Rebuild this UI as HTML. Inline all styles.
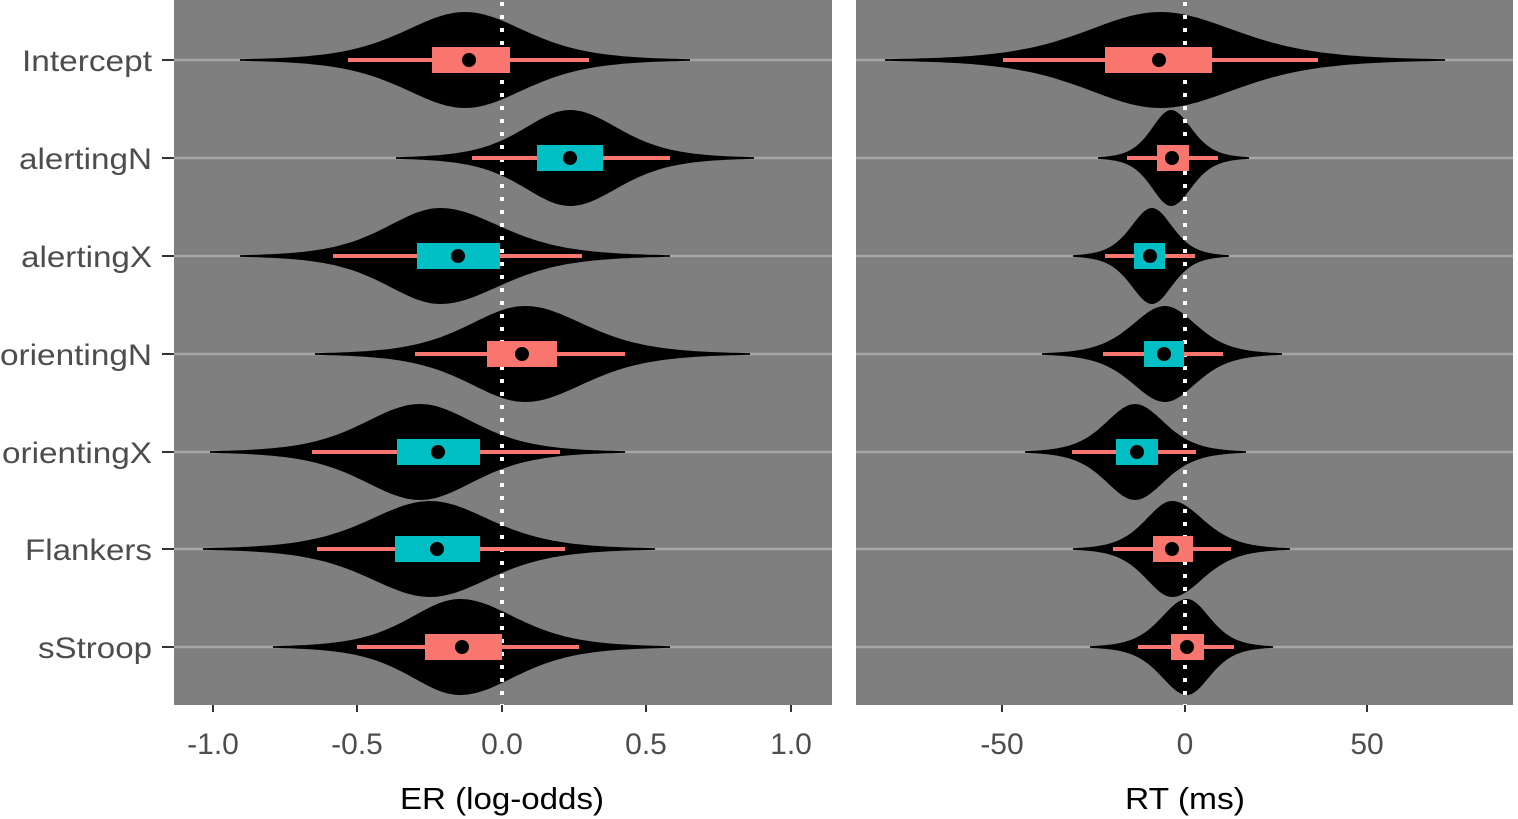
<!DOCTYPE html>
<html><head><meta charset="utf-8"><style>
html,body{margin:0;padding:0;background:#fff;}
svg{display:block;font-family:"Liberation Sans",Arial,sans-serif;}
</style></head><body>
<svg id="s" width="1518" height="819" xmlns="http://www.w3.org/2000/svg">
<rect x="174" y="0" width="658" height="705" fill="#7f7f7f"/>
<rect x="856" y="0" width="657" height="705" fill="#7f7f7f"/>
<g id="grid"></g>
<g id="vio"></g>
<line x1="502" y1="2" x2="502" y2="705" stroke="#fff" stroke-width="4" stroke-dasharray="4,9"/>
<line x1="1185" y1="2" x2="1185" y2="705" stroke="#fff" stroke-width="4" stroke-dasharray="4,9"/>
<g id="box"></g>
<g font-size="30" fill="#4d4d4d" text-anchor="end" textLength="0">
<text x="152" y="71" textLength="130" lengthAdjust="spacingAndGlyphs">Intercept</text>
<text x="152" y="169" textLength="133" lengthAdjust="spacingAndGlyphs">alertingN</text>
<text x="152" y="267" textLength="131" lengthAdjust="spacingAndGlyphs">alertingX</text>
<text x="152" y="365" textLength="152" lengthAdjust="spacingAndGlyphs">orientingN</text>
<text x="152" y="463" textLength="150" lengthAdjust="spacingAndGlyphs">orientingX</text>
<text x="152" y="560" textLength="127" lengthAdjust="spacingAndGlyphs">Flankers</text>
<text x="152" y="658" textLength="114" lengthAdjust="spacingAndGlyphs">sStroop</text>
</g>
<g stroke="#333" stroke-width="2" id="ticks"></g>
<g font-size="30" fill="#4d4d4d" text-anchor="middle">
<text x="213" y="754">-1.0</text><text x="357" y="754">-0.5</text><text x="502" y="754">0.0</text><text x="646" y="754">0.5</text><text x="791" y="754">1.0</text>
<text x="1002" y="754">-50</text><text x="1185" y="754">0</text><text x="1367" y="754">50</text>
</g>
<g font-size="31" fill="#000" text-anchor="middle">
<text x="502" y="809" textLength="204" lengthAdjust="spacingAndGlyphs">ER (log-odds)</text>
<text x="1185" y="809" textLength="120" lengthAdjust="spacingAndGlyphs">RT (ms)</text>
</g>
</svg>
<script>
var S='#F8766D',T='#00BFC4';
var rows=[60,158,256,354,452,549,647];
var L=[
[240,465,690,348,589,432,510,469,S],
[396,570,754,472,670,537,603,570,T],
[240,440,670,333,582,417,500,458,T],
[315,525,750,415,625,487,557,522,S],
[210,420,625,312,560,397,480,438,T],
[203,430,655,317,565,395,480,437,T],
[273,460,670,357,579,425,502,462,S]];
var R=[
[885,1160,1445,1003,1318,1105,1212,1159,S],
[1098,1171,1249,1127,1218,1157,1189,1172,S],
[1073,1152,1229,1105,1195,1134,1165,1150,T],
[1042,1165,1282,1103,1223,1144,1184,1164,T],
[1025,1135,1246,1072,1196,1116,1158,1137,T],
[1073,1172,1290,1113,1231,1153,1193,1172,S],
[1090,1187,1273,1138,1234,1171,1204,1187,S]];
var g='',v='',b='',t='';
rows.forEach(function(y){g+='<line x1="174" x2="832" y1="'+y+'" y2="'+y+'" stroke="#a6a6a6" stroke-width="2.5"/><line x1="856" x2="1513" y1="'+y+'" y2="'+y+'" stroke="#a6a6a6" stroke-width="2.5"/>';
t+='<line x1="162" x2="174" y1="'+y+'" y2="'+y+'"/>';});
[213,357,502,646,791,1002,1185,1367].forEach(function(x){t+='<line x1="'+x+'" x2="'+x+'" y1="705" y2="712"/>';});
function draw(d,y){
 var mn=d[0],pk=d[1],mx=d[2];
 var sl=(pk-mn)/3.6,sr=(mx-pk)/3.6,H=48,nu=6;
 var top=[],bot=[];
 for(var i=0;i<=120;i++){var x=mn+(mx-mn)*i/120;var z=(x-pk)/(x<pk?sl:sr);
  var h=H*Math.pow(1+z*z/nu,-(nu+1)/2);h=Math.max(h,0.8);
  top.push(x.toFixed(1)+','+(y-h).toFixed(1));bot.unshift(x.toFixed(1)+','+(y+h).toFixed(1));}
 v+='<polygon points="'+top.join(' ')+' '+bot.join(' ')+'" fill="#000"/>';
 b+='<line x1="'+d[3]+'" x2="'+d[4]+'" y1="'+y+'" y2="'+y+'" stroke="#F8766D" stroke-width="4"/>';
 b+='<rect x="'+d[5]+'" y="'+(y-13)+'" width="'+(d[6]-d[5])+'" height="26" fill="'+d[8]+'"/>';
 b+='<circle cx="'+d[7]+'" cy="'+y+'" r="7" fill="#000"/>';
}
L.forEach(function(d,i){draw(d,rows[i]);});
R.forEach(function(d,i){draw(d,rows[i]);});
document.getElementById('grid').innerHTML=g;
document.getElementById('vio').innerHTML=v;
document.getElementById('box').innerHTML=b;
document.getElementById('ticks').innerHTML=t;
</script>
</body></html>
